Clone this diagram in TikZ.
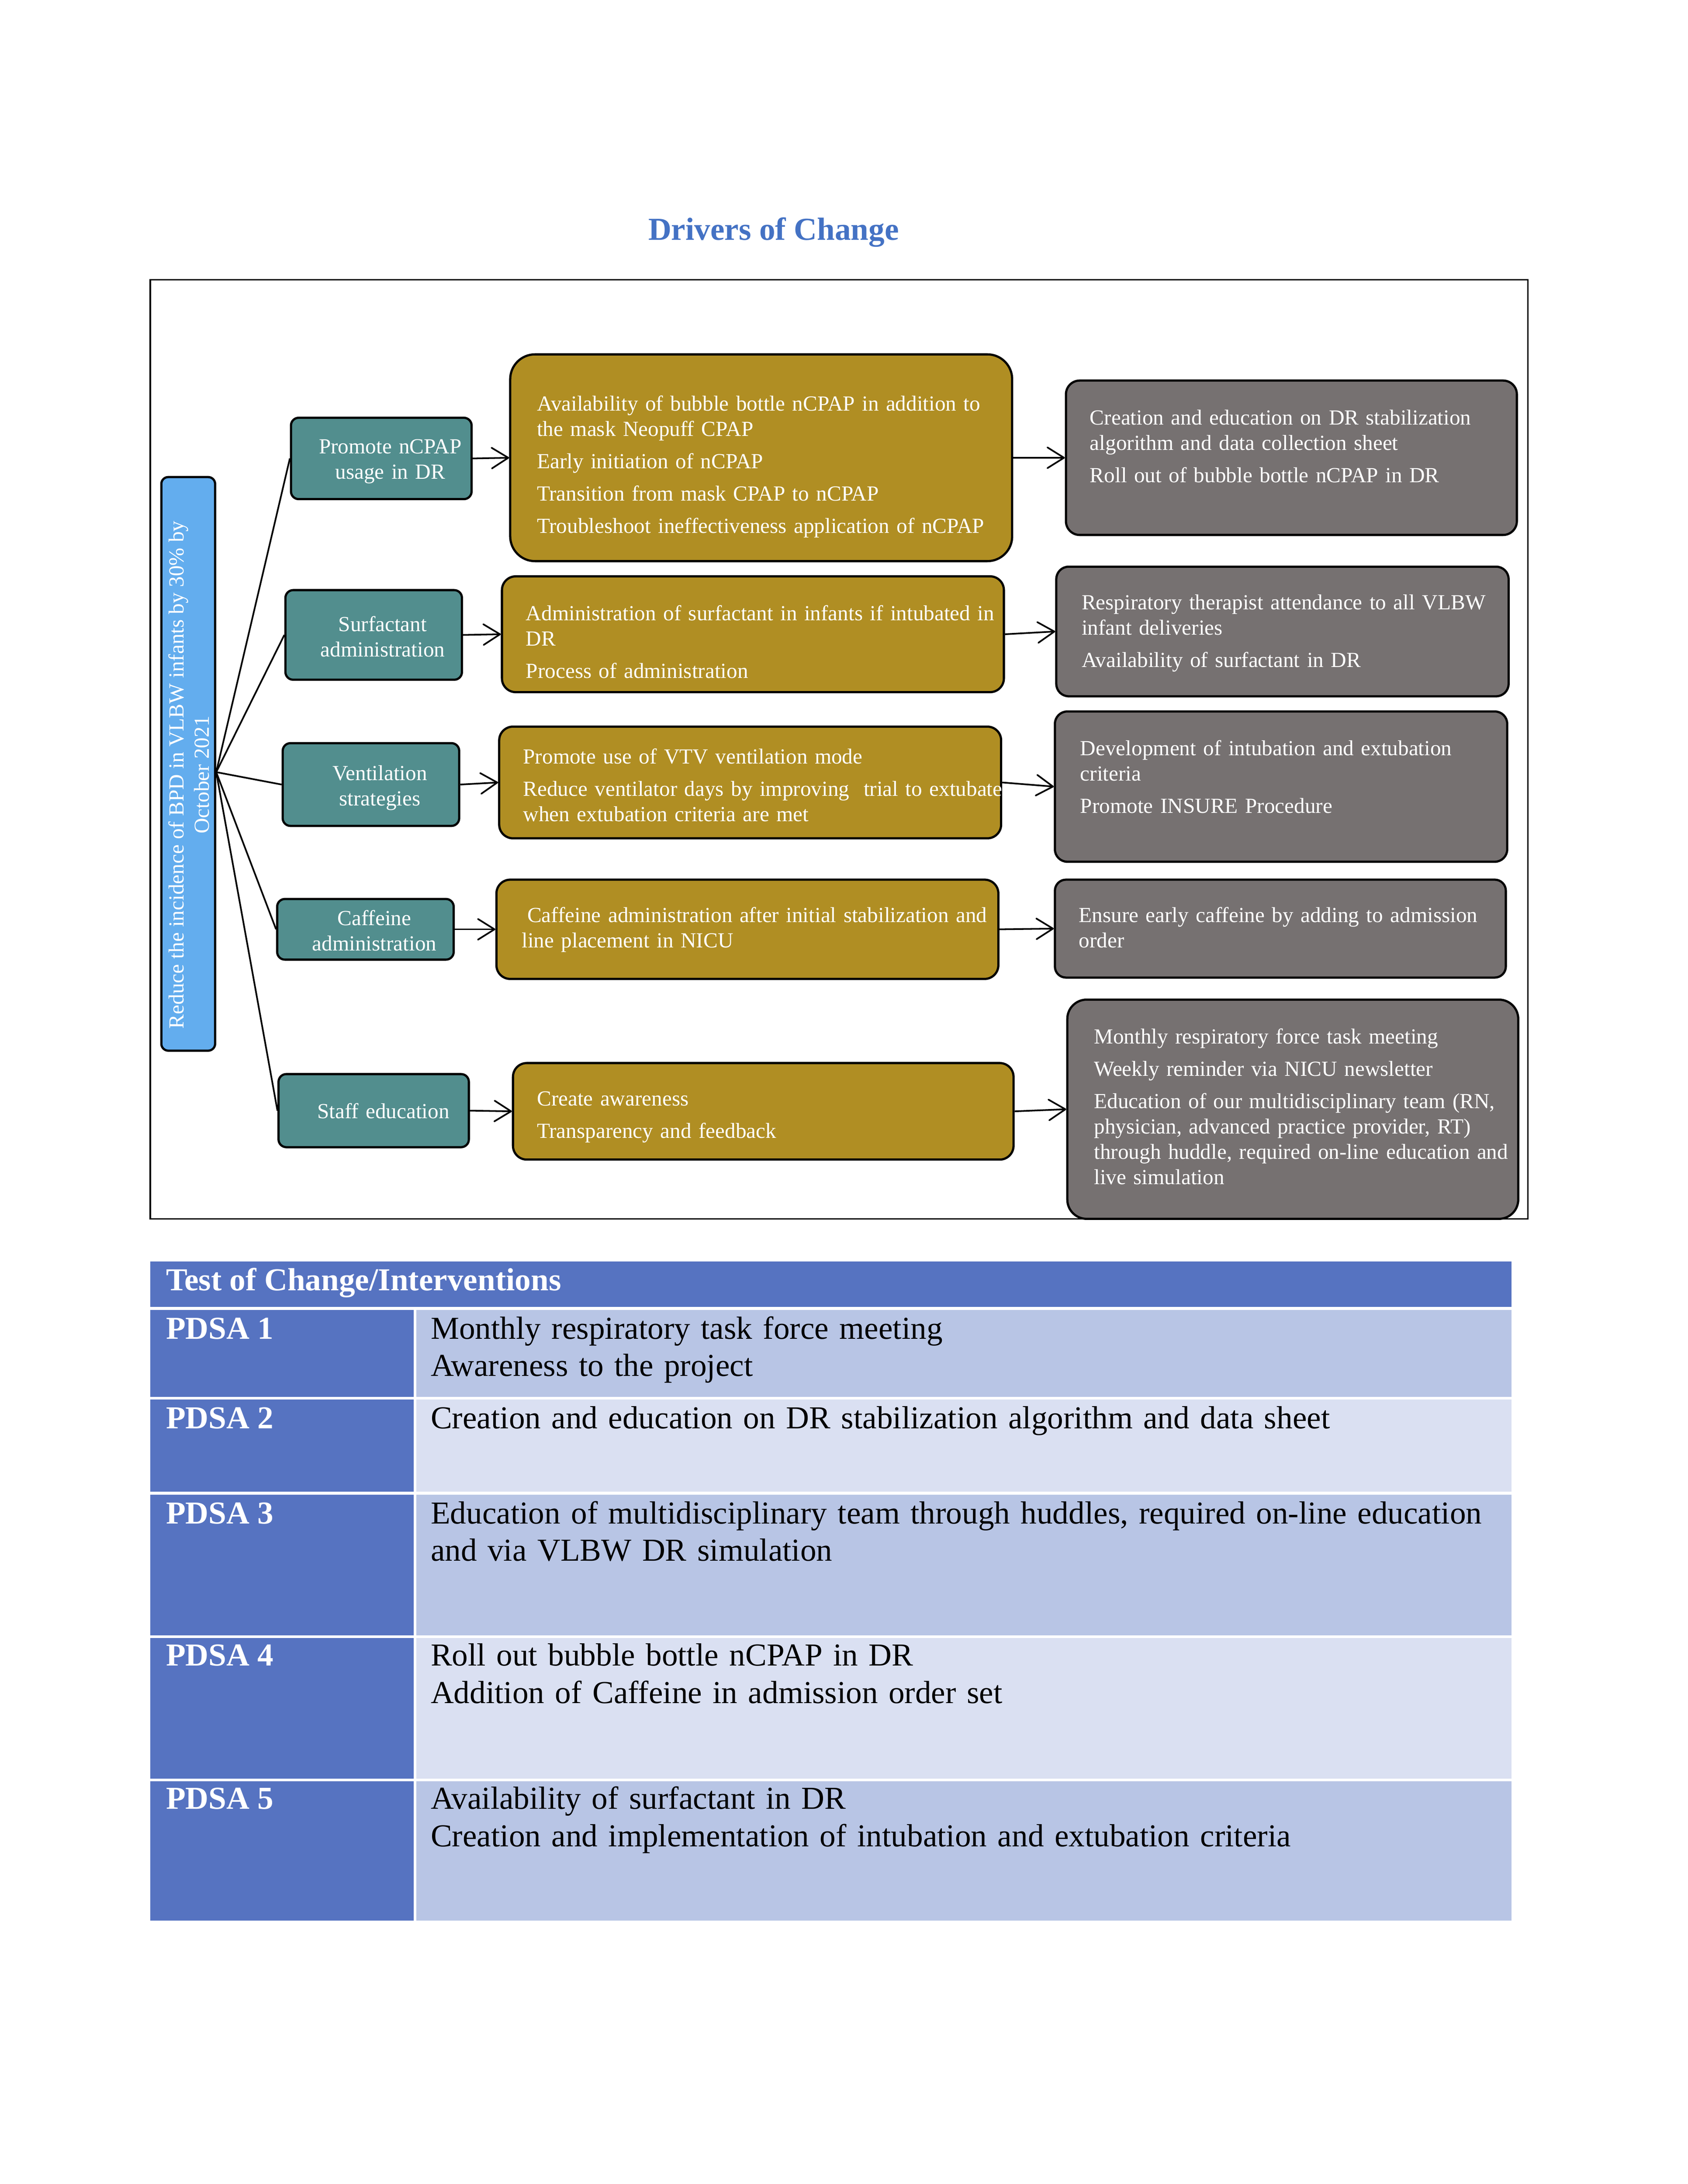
\documentclass[tikz,border=0pt]{standalone}
\usepackage{fontspec}
\setmainfont{Liberation Serif}
\usetikzlibrary{arrows.meta,fit}
\definecolor{tealc}{HTML}{528E8E}
\definecolor{goldc}{HTML}{B08E23}
\definecolor{grayc}{HTML}{767171}
\definecolor{goalc}{HTML}{63ADEE}
\definecolor{titlec}{HTML}{4472C4}
\definecolor{tdark}{HTML}{5673C1}
\definecolor{tmid}{HTML}{B8C5E5}
\definecolor{tlight}{HTML}{DAE0F2}
\tikzset{
  box/.style={draw=black, line width=0.8pt, inner sep=0pt},
  tealbox/.style={box, fill=tealc, rounded corners=2.8pt},
  goldbox/.style={box, fill=goldc, rounded corners=5pt},
  graybox/.style={box, fill=grayc, rounded corners=5pt},
  goalbox/.style={box, fill=goalc, rounded corners=2.5pt},
  smalltxt/.style={text=white, font=\fontsize{7.8}{9.2}\selectfont, inner sep=0pt},
  goldtxt/.style={smalltxt, align=left, anchor=base west, text width=200pt},
  graytxt/.style={smalltxt, align=left, anchor=base west, text width=180pt},
  midtxt/.style={smalltxt, align=center, anchor=base, text width=80pt},
  fan/.style={line width=0.6pt},
  arr/.style={line width=0.6pt, -{Straight Barb[length=6pt,width=7.5pt,round]}},
  tbltxt/.style={font=\fontsize{11.6}{13.6}\selectfont, inner sep=0pt, anchor=base west, align=left, text width=440pt},
  tblhead/.style={font=\fontsize{11.6}{13.6}\selectfont\bfseries, text=white, inner sep=0pt, anchor=base west},
}
\begin{document}
\begin{tikzpicture}[x=0.5pt,y=-0.5pt]
\useasboundingbox (0,0) rectangle (1224,1584);

% title
\node[font=\fontsize{11.6}{14}\selectfont\bfseries, text=titlec, anchor=base, inner sep=0pt] (title) at (561,174) {Drivers of Change};

% frame
\draw[line width=0.5pt] (109,203) rectangle (1108,884);

% goal
\node[goalbox, fit={(117,346) (156,762)}] (goal) {};
\node[smalltxt, align=center, rotate=90, anchor=center] (goalt) at (137,562) {Reduce the incidence of BPD in VLBW infants by 30\% by\\October 2021};
\coordinate (fan) at ([yshift=-3pt]goal.east);

% teal driver boxes
\node[tealbox, fit={(211,303) (342,362)}] (t1) {};
\node[tealbox, fit={(207,428) (335,493)}] (t2) {};
\node[tealbox, fit={(205,539) (333,599)}] (t3) {};
\node[tealbox, fit={(201,652) (329,696)}] (t4) {};
\node[tealbox, fit={(202,779) (340,832)}] (t5) {};
\node[midtxt] (t1t) at (283,329) {Promote nCPAP\\usage in DR};
\node[midtxt] (t2t) at (277.5,458) {Surfactant\\administration};
\node[midtxt] (t3t) at (275.5,566) {Ventilation\\strategies};
\node[midtxt] (t4t) at (271.5,671) {Caffeine\\administration};
\node[midtxt] (t5t) at (278,811) {Staff education};

% gold boxes
\node[goldbox, rounded corners=9pt, fit={(370,257) (734,407)}] (g1) {};
\node[goldbox, fit={(364,418) (728,502)}] (g2) {};
\node[goldbox, fit={(362,527) (726,608)}] (g3) {};
\node[goldbox, fit={(360,638) (724,710)}] (g4) {};
\node[goldbox, fit={(372,771) (735,841)}] (g5) {};
\node[goldtxt] (g1t) at (389,298) {Availability of bubble bottle nCPAP in addition to\\the mask Neopuff CPAP\\[2.5pt]Early initiation of nCPAP\\[2.5pt]Transition from mask CPAP to nCPAP\\[2.5pt]Troubleshoot ineffectiveness application of nCPAP};
\node[goldtxt] (g2t) at (381,450) {Administration of surfactant in infants if intubated in\\DR\\[2.5pt]Process of administration};
\node[goldtxt] (g3t) at (379,554) {Promote use of VTV ventilation mode\\[2.5pt]Reduce ventilator days by improving~ trial to extubate\\when extubation criteria are met};
\node[goldtxt] (g4t) at (378,669) {\hspace*{2pt}Caffeine administration after initial stabilization and\\line placement in NICU};
\node[goldtxt] (g5t) at (389,802) {Create awareness\\[2.5pt]Transparency and feedback};

% gray boxes
\node[graybox, fit={(773,276) (1100,388)}] (r1) {};
\node[graybox, rounded corners=4.5pt, fit={(766,411) (1094,505)}] (r2) {};
\node[graybox, rounded corners=4.5pt, fit={(765,516) (1093,625)}] (r3) {};
\node[graybox, rounded corners=4pt, fit={(765,638) (1092,709)}] (r4) {};
\node[graybox, rounded corners=7pt, fit={(774,725) (1101,884)}] (r5) {};
\node[graytxt] (r1t) at (790,308) {Creation and education on DR stabilization\\algorithm and data collection sheet\\[2.5pt]Roll out of bubble bottle nCPAP in DR};
\node[graytxt] (r2t) at (784,442) {Respiratory therapist attendance to all VLBW\\infant deliveries\\[2.5pt]Availability of surfactant in DR};
\node[graytxt] (r3t) at (783,548) {Development of intubation and extubation\\criteria\\[2.5pt]Promote INSURE Procedure};
\node[graytxt] (r4t) at (782,669) {Ensure early caffeine by adding to admission\\order};
\node[graytxt] (r5t) at (793,757) {Monthly respiratory force task meeting\\[2.5pt]Weekly reminder via NICU newsletter\\[2.5pt]Education of our multidisciplinary team (RN,\\physician, advanced practice provider, RT)\\through huddle, required on-line education and\\live simulation};

% fan connectors
\foreach \t in {t1,t2,t3,t4,t5}{
  \draw[fan] (fan) -- (\t.west);
}
% arrows
\foreach \i in {1,...,5}{
  \draw[arr] (t\i.east) -- (g\i.west);
  \draw[arr] (g\i.east) -- (r\i.west);
}

% table
\fill[tdark] (109,915) rectangle (1096,948);
\node[tblhead] (th) at (120,936) {Test of Change/Interventions};

\fill[tdark] (109,950) rectangle (300,1013);
\fill[tmid] (302,950) rectangle (1096,1013);
\fill[tdark] (109,1015) rectangle (300,1082);
\fill[tlight] (302,1015) rectangle (1096,1082);
\fill[tdark] (109,1084) rectangle (300,1186);
\fill[tmid] (302,1084) rectangle (1096,1186);
\fill[tdark] (109,1188) rectangle (300,1290);
\fill[tlight] (302,1188) rectangle (1096,1290);
\fill[tdark] (109,1292) rectangle (300,1393);
\fill[tmid] (302,1292) rectangle (1096,1393);

\node[tblhead] (p1) at (120,971) {PDSA 1};
\node[tblhead] (p2) at (120,1036) {PDSA 2};
\node[tblhead] (p3) at (120,1105) {PDSA 3};
\node[tblhead] (p4) at (120,1208) {PDSA 4};
\node[tblhead] (p5) at (120,1312) {PDSA 5};

\node[tbltxt] (d1) at (312,971) {Monthly respiratory task force meeting\\Awareness to the project};
\node[tbltxt] (d2) at (312,1036) {Creation and education on DR stabilization algorithm and data sheet};
\node[tbltxt] (d3) at (312,1105) {Education of multidisciplinary team through huddles, required on-line education\\and via VLBW DR simulation};
\node[tbltxt] (d4) at (312,1208) {Roll out bubble bottle nCPAP in DR\\Addition of Caffeine in admission order set};
\node[tbltxt] (d5) at (312,1312) {Availability of surfactant in DR\\Creation and implementation of intubation and extubation criteria};
\end{tikzpicture}
\end{document}
